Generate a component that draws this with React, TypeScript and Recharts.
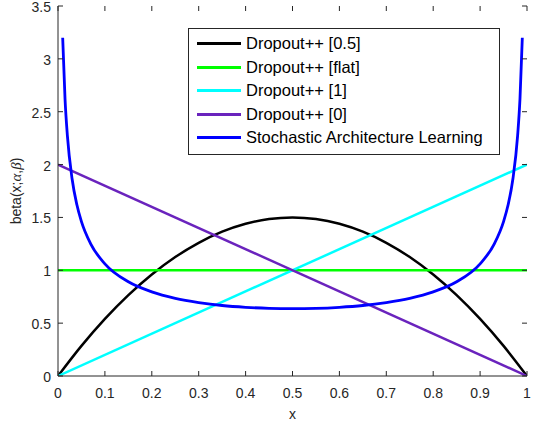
import React from "react";
import { ComposedChart, Line, XAxis, YAxis, Legend } from "recharts";

// Dropout++ [0.5]  (beta(2,2))
const halfX = [0, 0.05, 0.1, 0.15, 0.2, 0.25, 0.3, 0.35, 0.4, 0.45, 0.5, 0.55, 0.6, 0.65, 0.7, 0.75, 0.8, 0.85, 0.9, 0.95, 1];
const halfY = [0, 0.285, 0.54, 0.765, 0.96, 1.125, 1.26, 1.365, 1.44, 1.485, 1.5, 1.485, 1.44, 1.365, 1.26, 1.125, 0.96, 0.765, 0.54, 0.285, 0];

// Dropout++ [flat]
const flatX = [0, 1];
const flatY = [1, 1];

// Dropout++ [1]
const oneX = [0, 1];
const oneY = [0, 2];

// Dropout++ [0]
const zeroX = [0, 1];
const zeroY = [2, 0];

// Stochastic Architecture Learning (beta(0.5,0.5))
const salX = [0.01, 0.015, 0.02, 0.03, 0.04, 0.05, 0.07, 0.1, 0.15, 0.2, 0.25, 0.3, 0.35, 0.4, 0.45, 0.5, 0.55, 0.6, 0.65, 0.7, 0.75, 0.8, 0.85, 0.9, 0.93, 0.95, 0.96, 0.97, 0.98, 0.985, 0.99];
const salY = [3.199, 2.619, 2.274, 1.866, 1.624, 1.461, 1.248, 1.061, 0.891, 0.796, 0.735, 0.695, 0.667, 0.65, 0.64, 0.637, 0.64, 0.65, 0.667, 0.695, 0.735, 0.796, 0.891, 1.061, 1.248, 1.461, 1.624, 1.866, 2.274, 2.619, 3.199];

const xTicks = [0, 0.1, 0.2, 0.3, 0.4, 0.5, 0.6, 0.7, 0.8, 0.9, 1];
const yTicks = [0, 0.5, 1, 1.5, 2, 2.5, 3, 3.5];

const seriesNames = [
  "Dropout++ [0.5]",
  "Dropout++ [flat]",
  "Dropout++ [1]",
  "Dropout++ [0]",
  "Stochastic Architecture Learning",
];
const seriesColors = ["#000000", "#00ff00", "#00ffff", "#6a23bd", "#0000ff"];

const toPts = (xs: number[], ys: number[]) => xs.map((x, i) => ({ x, y: ys[i] }));

const W = 536;
const H = 427;
const PL = 58;
const PR = 527;
const PT = 6;
const PB = 376;
const AX = "#262626";
const FONT = "'Liberation Sans', Arial, Helvetica, sans-serif";

const XTick = (props: any) => {
  const { x, payload } = props;
  return (
    <g>
      <line x1={x} x2={x} y1={PB} y2={PB - 5} stroke={AX} strokeWidth={1} />
      <line x1={x} x2={x} y1={PT} y2={PT + 5} stroke={AX} strokeWidth={1} />
      <text x={x} y={PB + 22} textAnchor="middle" fill={AX} fontSize={14} fontFamily={FONT}>
        {String(payload.value)}
      </text>
    </g>
  );
};

const YTick = (props: any) => {
  const { y, payload } = props;
  return (
    <g>
      <line x1={PL} x2={PL + 5} y1={y} y2={y} stroke={AX} strokeWidth={1} />
      <line x1={PR} x2={PR - 5} y1={y} y2={y} stroke={AX} strokeWidth={1} />
      <text x={PL - 7} y={y + 6} textAnchor="end" fill={AX} fontSize={14} fontFamily={FONT}>
        {String(payload.value)}
      </text>
    </g>
  );
};

const YLabel = (props: any) => {
  const vb = props.viewBox || { x: 0, y: PT, width: 58, height: PB - PT };
  const cx = 21;
  const cy = vb.y + vb.height / 2;
  const serif = "'Liberation Serif', 'Times New Roman', serif";
  return (
    <text
      x={cx}
      y={cy}
      transform={`rotate(-90 ${cx} ${cy})`}
      textAnchor="middle"
      fill={AX}
      fontSize={14}
      fontFamily={FONT}
    >
      <tspan>beta(x;</tspan>
      <tspan fontFamily={serif} fontStyle="italic" fontSize={15}>α</tspan>
      <tspan>,</tspan>
      <tspan fontFamily={serif} fontStyle="italic" fontSize={15}>β</tspan>
      <tspan>)</tspan>
    </text>
  );
};

const XLabel = (props: any) => {
  const vb = props.viewBox || { x: PL, y: PB, width: PR - PL, height: 51 };
  return (
    <text x={vb.x + vb.width / 2} y={vb.y + 43} textAnchor="middle" fill={AX} fontSize={14} fontFamily={FONT}>
      x
    </text>
  );
};

const LegendBox = () => (
  <div
    style={{
      width: 310,
      height: 122,
      border: `1px solid ${AX}`,
      background: "#fff",
      boxSizing: "content-box",
      fontFamily: FONT,
      fontSize: 16.5,
      color: "#000",
      paddingTop: 3,
    }}
  >
    {seriesNames.map((n, i) => (
      <div key={n} style={{ display: "flex", alignItems: "center", height: 23.5 }}>
        <div style={{ marginLeft: 8, width: 44, height: 3, background: seriesColors[i] }} />
        <span style={{ marginLeft: 5, whiteSpace: "nowrap", lineHeight: "23.5px" }}>{n}</span>
      </div>
    ))}
  </div>
);

export default function App() {
  return (
    <div style={{ position: "absolute", left: 0, top: 0, width: W, height: H, background: "#fff" }}>
      <ComposedChart width={W} height={H} margin={{ top: PT, right: W - PR, bottom: 0, left: 0 }}>
        <XAxis
          xAxisId={0}
          type="number"
          dataKey="x"
          domain={[0, 1]}
          ticks={xTicks}
          interval={0}
          height={H - PB}
          tick={<XTick />}
          tickLine={false}
          axisLine={{ stroke: AX, strokeWidth: 1 }}
          allowDataOverflow
          label={<XLabel />}
        />
        <XAxis
          xAxisId="top"
          orientation="top"
          type="number"
          dataKey="x"
          domain={[0, 1]}
          height={0}
          tick={false}
          tickLine={false}
          axisLine={{ stroke: AX, strokeWidth: 1 }}
        />
        <YAxis
          yAxisId={0}
          type="number"
          domain={[0, 3.5]}
          ticks={yTicks}
          interval={0}
          width={PL}
          tick={<YTick />}
          tickLine={false}
          axisLine={{ stroke: AX, strokeWidth: 1 }}
          allowDataOverflow
          label={<YLabel />}
        />
        <YAxis
          yAxisId="right"
          orientation="right"
          type="number"
          domain={[0, 3.5]}
          width={0}
          tick={false}
          tickLine={false}
          axisLine={{ stroke: AX, strokeWidth: 1 }}
        />
        <Legend
          layout="horizontal"
          verticalAlign="middle"
          align="center"
          wrapperStyle={{ position: "absolute", left: 188, top: 28, width: 312, height: 124 }}
          content={<LegendBox />}
        />
        <Line data={toPts(halfX, halfY)} dataKey="y" name={seriesNames[0]} type="monotone" stroke={seriesColors[0]} strokeWidth={2.5} dot={false} isAnimationActive={false} />
        <Line data={toPts(flatX, flatY)} dataKey="y" name={seriesNames[1]} type="linear" stroke={seriesColors[1]} strokeWidth={2.5} dot={false} isAnimationActive={false} />
        <Line data={toPts(oneX, oneY)} dataKey="y" name={seriesNames[2]} type="linear" stroke={seriesColors[2]} strokeWidth={2.5} dot={false} isAnimationActive={false} />
        <Line data={toPts(zeroX, zeroY)} dataKey="y" name={seriesNames[3]} type="linear" stroke={seriesColors[3]} strokeWidth={2.5} dot={false} isAnimationActive={false} />
        <Line data={toPts(salX, salY)} dataKey="y" name={seriesNames[4]} type="monotone" stroke={seriesColors[4]} strokeWidth={2.8} dot={false} isAnimationActive={false} />
      </ComposedChart>
    </div>
  );
}
